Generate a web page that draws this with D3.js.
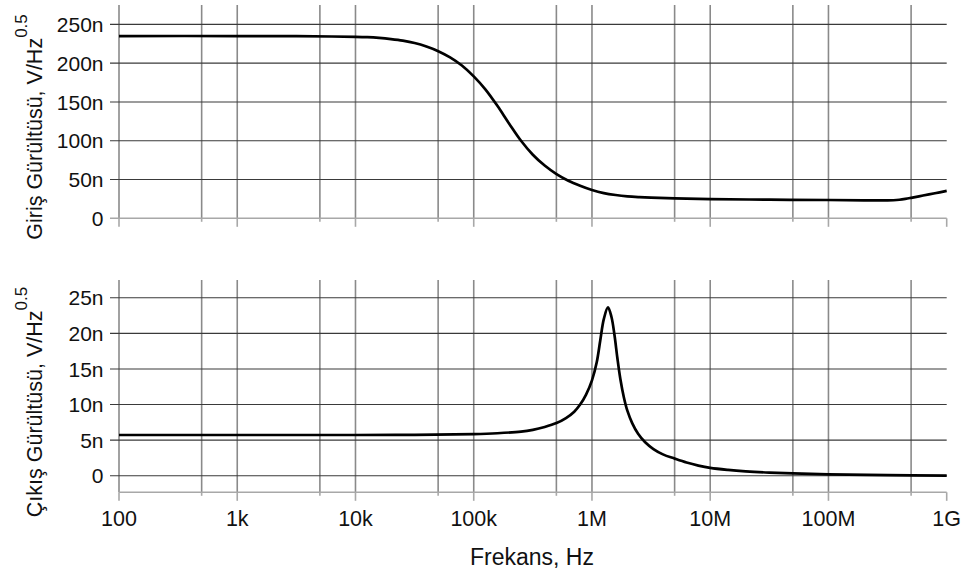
<!DOCTYPE html>
<html>
<head>
<meta charset="utf-8">
<script src="https://cdn.jsdelivr.net/npm/d3@7"></script>
<style>
  html, body { margin: 0; padding: 0; background: #fff; }
  svg { display: block; font-family: "Liberation Sans", Arial, sans-serif; }
</style>
</head>
<body>
<svg id="chart" width="968" height="576"></svg>
<script>
// ---- Data (values in nV/√Hz, frequencies in Hz) ----
const freqInput = [100, 1e3, 3.162e3, 6.31e3, 1e4, 1.259e4, 1.585e4, 1.995e4, 2.512e4, 3.162e4, 3.981e4, 5.012e4, 6.31e4, 7.943e4, 1e5, 1.259e5, 1.585e5, 1.995e5, 2.512e5, 3.162e5, 3.981e5, 5.012e5, 6.31e5, 7.943e5, 1e6, 1.259e6, 1.585e6, 1.995e6, 2.512e6, 3.162e6, 5.012e6, 1e7, 3.162e7, 1e8, 1.995e8, 3.162e8, 3.548e8, 3.981e8, 4.467e8, 5.012e8, 6.31e8, 7.943e8, 1e9];
const inputNoise = [235, 235, 234.8, 234.4, 234, 233.5, 232.5, 231, 229, 226, 221.5, 215.5, 207.5, 197, 183, 166, 145, 122, 100, 82, 68, 57, 48.5, 42, 36.5, 32.5, 30, 28.3, 27.3, 26.6, 25.7, 24.8, 24.0, 23.6, 23.2, 23.1, 23.3, 23.9, 25.0, 26.4, 29.4, 32.3, 35.3];

const freqOutput = [100, 1e3, 1e4, 3.162e4, 1e5, 1.585e5, 2.512e5, 3.162e5, 3.981e5, 5.012e5, 6.026e5, 7.079e5, 7.943e5, 8.913e5, 1e6, 1.096e6, 1.175e6, 1.259e6, 1.365e6, 1.462e6, 1.549e6, 1.641e6, 1.738e6, 1.862e6, 1.995e6, 2.188e6, 2.455e6, 2.818e6, 3.311e6, 3.981e6, 5.012e6, 6.31e6, 7.943e6, 1e7, 1.413e7, 1.995e7, 3.162e7, 5.012e7, 1e8, 3.162e8, 1e9];
const outputNoise = [5.72, 5.72, 5.72, 5.74, 5.85, 5.97, 6.2, 6.45, 6.85, 7.4, 8.1, 9.0, 10.0, 11.4, 13.4, 15.9, 19.0, 22.0, 23.65, 22.3, 19.8, 16.5, 13.6, 11.0, 9.1, 7.4, 5.9, 4.7, 3.75, 3.0, 2.4, 1.85, 1.42, 1.1, 0.82, 0.62, 0.44, 0.32, 0.2, 0.08, 0.02];

const xMajorTicks = [1e2, 1e3, 1e4, 1e5, 1e6, 1e7, 1e8, 1e9];
const xTickLabels = ["100", "1k", "10k", "100k", "1M", "10M", "100M", "1G"];
const xMinorTicks = [5e2, 5e3, 5e4, 5e5, 5e6, 5e7, 5e8];

const topTicks = [0, 50, 100, 150, 200, 250];
const topTickLabels = ["0", "50n", "100n", "150n", "200n", "250n"];
const bottomTicks = [0, 5, 10, 15, 20, 25];
const bottomTickLabels = ["0", "5n", "10n", "15n", "20n", "25n"];

// ---- Layout ----
const svg = d3.select("#chart");
const left = 119, right = 946.7;
const x = d3.scaleLog().domain([100, 1e9]).range([left, right]);

const panels = [
  { freq: freqInput, vals: inputNoise, y: d3.scaleLinear().domain([0, 275]).range([218.3, 5]),
    ticks: topTicks, labels: topTickLabels, title: "Giriş Gürültüsü, V/Hz", titleY: 127, zeroIsAxis: true },
  { freq: freqOutput, vals: outputNoise, y: d3.scaleLinear().domain([-2.33, 27.5]).range([492.3, 280]),
    ticks: bottomTicks, labels: bottomTickLabels, title: "Çıkış Gürültüsü, V/Hz", titleY: 402, zeroIsAxis: false }
];

const gridDark = "#3a3a3a";
const gridVert = "#8a8a8a";
const axisGray = "#a8a8a8";

panels.forEach(p => {
  const g = svg.append("g");
  const [yBot, yTop] = p.y.range();

  // vertical grid lines
  const verts = xMajorTicks.slice(0, -1).concat(xMinorTicks);
  g.selectAll(".vg").data(verts).join("line")
    .attr("x1", d => x(d)).attr("x2", d => x(d))
    .attr("y1", yTop).attr("y2", yBot)
    .attr("stroke", gridVert).attr("stroke-width", 1.6);

  // x ticks below axis
  g.selectAll(".mt").data(xMajorTicks).join("line")
    .attr("x1", d => x(d)).attr("x2", d => x(d))
    .attr("y1", yBot).attr("y2", yBot + 8.5)
    .attr("stroke", axisGray).attr("stroke-width", 1.6);
  g.selectAll(".nt").data(xMinorTicks).join("line")
    .attr("x1", d => x(d)).attr("x2", d => x(d))
    .attr("y1", yBot).attr("y2", yBot + 3.5)
    .attr("stroke", axisGray).attr("stroke-width", 1.6);

  // horizontal grid lines
  g.selectAll(".hg").data(p.ticks).join("line")
    .attr("x1", left - 9).attr("x2", right)
    .attr("y1", d => p.y(d)).attr("y2", d => p.y(d))
    .attr("stroke", d => (d === 0 && p.zeroIsAxis) ? axisGray : gridDark)
    .attr("stroke-width", d => (d === 0 && p.zeroIsAxis) ? 1.6 : 1.1);

  // bottom axis line (if not zero)
  if (!p.zeroIsAxis) {
    g.append("line").attr("x1", left).attr("x2", right)
      .attr("y1", yBot).attr("y2", yBot)
      .attr("stroke", axisGray).attr("stroke-width", 1.6);
  }

  // y tick labels
  g.selectAll(".yl").data(p.ticks).join("text")
    .attr("x", 103.5).attr("y", d => p.y(d))
    .attr("dy", "0.36em")
    .attr("text-anchor", "end")
    .attr("font-size", 21).attr("fill", "#111")
    .text((d, i) => p.labels[i]);

  // y title
  const t = g.append("text")
    .attr("transform", `translate(42,${p.titleY}) rotate(-90)`)
    .attr("text-anchor", "middle")
    .attr("font-size", 21.5).attr("fill", "#111");
  t.append("tspan").text(p.title);
  t.append("tspan").attr("font-size", 17).attr("dy", -15).text("0.5");

  // curve
  const line = d3.line()
    .x((d, i) => x(p.freq[i]))
    .y(d => p.y(d))
    .curve(d3.curveCatmullRom.alpha(0.5));
  g.append("path").attr("d", line(p.vals))
    .attr("fill", "none").attr("stroke", "#000").attr("stroke-width", 2.7)
    .attr("stroke-linejoin", "round");
});

// x tick labels
svg.selectAll(".xl").data(xMajorTicks).join("text")
  .attr("x", d => x(d)).attr("y", 526)
  .attr("text-anchor", "middle")
  .attr("font-size", 21.5).attr("fill", "#111")
  .text((d, i) => xTickLabels[i]);

// x title
svg.append("text")
  .attr("x", 532).attr("y", 565)
  .attr("text-anchor", "middle")
  .attr("font-size", 23).attr("fill", "#111")
  .text("Frekans, Hz");
</script>
</body>
</html>
